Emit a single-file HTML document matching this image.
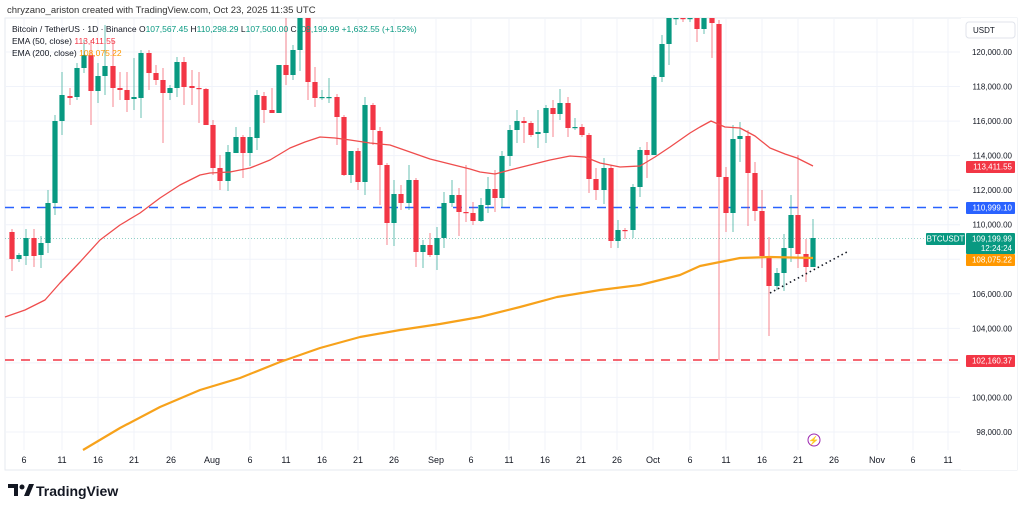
<!DOCTYPE html>
<html><head><meta charset="utf-8"><style>
html,body{margin:0;padding:0;background:#fff;width:1024px;height:510px;overflow:hidden;font-family:"Liberation Sans",sans-serif}
svg text{font-family:"Liberation Sans",sans-serif}
</style></head><body>
<svg id="s" width="1024" height="510" xmlns="http://www.w3.org/2000/svg"></svg>
<script>
const s=document.getElementById('s');let h='';
const G='#089981',R='#f23645';
h+='<rect x="5" y="18" width="1012" height="452" fill="#fff" stroke="#e6e9ef"/>';
// grid
const py=p=>52+(120000-p)/1000*17.27;
for(let p=96000;p<=122000;p+=2000){const y=py(p);if(y>18&&y<450)h+=`<line x1="5" x2="960" y1="${y}" y2="${y}" stroke="#f0f3fa"/>`;}
const xl=[[24,'6'],[62,'11'],[98,'16'],[134,'21'],[171,'26'],[212,'Aug'],[250,'6'],[286,'11'],[322,'16'],[358,'21'],[394,'26'],[436,'Sep'],[471,'6'],[509,'11'],[545,'16'],[581,'21'],[617,'26'],[653,'Oct'],[690,'6'],[726,'11'],[762,'16'],[798,'21'],[834,'26'],[877,'Nov'],[913,'6'],[948,'11']];
xl.forEach(([x,t])=>{h+=`<line x1="${x}" x2="${x}" y1="18" y2="450" stroke="#f0f3fa"/>`;h+=`<text x="${x}" y="463" font-size="9" fill="#131722" text-anchor="middle">${t}</text>`;});
// lines
h+=`<line x1="5" x2="960" y1="238.5" y2="238.5" stroke="#089981" stroke-width="0.7" stroke-dasharray="1,2" opacity="0.6"/>`;
h+=`<line x1="5" x2="962" y1="207.5" y2="207.5" stroke="#2962ff" stroke-width="1.6" stroke-dasharray="9,7"/>`;
h+=`<line x1="5" x2="962" y1="360" y2="360" stroke="#f23645" stroke-width="1.6" stroke-dasharray="9,7"/>`;
// candles [x,c,bt,bb,wt,wb]
const C=[[12,'r',232,259,229,271],[19,'g',255,259,253,262],[26,'g',238,256,229,265],[34,'r',238,256,229,267],[41,'g',243,255,236,268],[48,'g',203,243,190,253],[55,'g',121,203,115,215],[62,'g',95,121,72,135],[70,'r',96,98,88,105],[77,'g',68,97,63,100],[84,'g',55,68,40,73],[91,'r',55,91,40,125],[98,'g',76,91,63,103],[105,'g',66,76,25,95],[113,'r',66,88,40,107],[120,'r',88,90,72,100],[127,'r',90,100,72,112],[134,'g',97,99,58,110],[141,'g',53,98,50,118],[149,'r',53,73,50,90],[156,'r',73,80,65,85],[163,'r',80,93,68,143],[170,'g',88,93,85,100],[177,'g',62,88,57,97],[184,'r',62,87,57,105],[192,'r',86,88,70,105],[199,'r',88,89,72,123],[206,'r',89,125,88,125],[213,'r',125,168,120,175],[220,'r',168,181,155,190],[228,'g',152,181,145,191],[236,'g',137,153,127,152],[243,'r',137,153,135,178],[250,'g',137,153,127,166],[257,'g',95,138,90,150],[264,'r',96,110,92,123],[272,'r',110,113,88,113],[279,'g',65,113,65,113],[286,'r',65,75,18,85],[293,'g',50,75,45,80],[300,'g',18,50,18,71],[308,'r',18,82,18,100],[315,'r',82,98,67,107],[322,'g',97,98,90,100],[329,'g',97,98,78,103],[337,'r',97,117,94,145],[344,'r',117,175,115,176],[351,'g',151,175,151,183],[358,'r',151,182,148,190],[365,'g',105,182,97,195],[373,'r',105,130,103,145],[380,'r',131,165,127,205],[387,'r',165,223,163,245],[394,'g',194,223,180,246],[401,'r',194,203,185,210],[409,'g',180,203,165,210],[416,'r',180,252,178,267],[423,'g',245,252,240,268],[430,'r',245,255,233,257],[437,'g',238,255,227,270],[444,'g',203,238,192,248],[452,'g',195,203,180,207],[459,'r',195,212,188,236],[466,'r',212,213,165,222],[473,'r',213,221,202,225],[481,'g',205,221,198,222],[488,'g',189,205,177,213],[495,'r',189,198,170,212],[502,'g',156,198,151,207],[510,'g',130,156,125,166],[517,'g',121,130,110,143],[524,'r',121,123,117,143],[531,'r',123,135,121,137],[538,'g',132,134,110,148],[546,'g',108,133,105,143],[553,'r',108,114,100,137],[560,'g',103,114,89,120],[568,'r',103,128,97,137],[575,'g',127,128,118,130],[582,'r',127,135,124,137],[589,'r',135,179,133,193],[596,'r',179,190,168,200],[604,'g',168,190,158,204],[611,'r',168,241,165,248],[618,'g',230,241,220,248],[625,'r',230,231,228,239],[633,'g',187,230,184,238],[640,'g',150,187,147,197],[647,'r',150,155,142,178],[654,'g',77,155,75,155],[662,'g',44,77,35,82],[669,'g',18,44,18,65],[676,'g',18,19,18,25],[683,'r',18,19,18,22],[690,'g',18,19,18,22],[697,'r',18,29,18,42],[704,'g',18,29,18,34],[712,'r',18,23,18,58],[719,'r',24,177,20,360],[726,'r',177,213,167,232],[733,'g',139,213,125,232],[740,'g',136,139,122,162],[748,'r',136,173,130,226],[755,'r',173,211,162,221],[762,'r',211,256,190,268],[769,'r',256,286,237,336],[777,'g',273,286,268,290],[784,'g',248,273,234,291],[791,'g',215,248,195,262],[798,'r',215,254,155,268],[806,'r',254,267,239,282],[813,'g',238,267,219,267]];
C.forEach(([x,c,bt,bb,wt,wb])=>{const col=c=='g'?G:R;h+=`<line x1="${x}" x2="${x}" y1="${wt}" y2="${wb}" stroke="${col}" stroke-width="1" opacity="0.6"/>`;h+=`<rect x="${x-2.6}" y="${bt}" width="5.2" height="${Math.max(1.2,bb-bt)}" fill="${col}"/>`;});
// EMAs
const e50=[[5,317],[25,310],[45,300],[60,283],[80,262],[100,240],[120,225],[140,213],[160,198],[180,185],[200,175],[210,173],[230,172],[250,168],[270,160],[290,148],[305,142],[320,137],[335,138],[350,140],[370,143],[390,145],[410,152],[430,159],[450,164],[470,169],[480,172],[495,174],[510,170],[530,165],[550,160],[570,156],[585,157],[600,163],[620,167],[640,166],[655,157],[670,147],[690,133],[700,127],[711,121],[725,127],[740,128],[755,136],[770,148],[785,154],[797,158],[813,166]];
const e200=[[83,450],[120,428],[160,407],[200,390],[240,378],[280,362],[320,348],[360,337],[400,330],[440,324],[480,317],[520,307],[557,297],[600,290],[640,285],[680,275],[700,266],[720,262],[740,258],[770,257],[813,258]];
const pl=(a,c,w)=>`<polyline fill="none" stroke="${c}" stroke-width="${w}" stroke-linejoin="round" points="${a.map(p=>p.join(',')).join(' ')}"/>`;
h+=pl(e50,'#ef4d4d',1.3);h+=pl(e200,'#f7a21b',2.2);
h+=`<line x1="770" y1="293" x2="847" y2="252" stroke="#131722" stroke-width="1.6" stroke-dasharray="1.5,3"/>`;
// axis
h+=`<rect x="961" y="18" width="56" height="452" fill="#fff"/>`;
h+=`<rect x="966" y="22" width="49" height="16" rx="3" fill="#fff" stroke="#e0e3eb"/><text x="973" y="33" font-size="8" fill="#131722">USDT</text>`;
for(let p=98000;p<=120000;p+=2000){h+=`<text x="1012" y="${py(p)+3}" font-size="8" fill="#131722" text-anchor="end">${p.toLocaleString('en-US')}.00</text>`;}
const badge=(y,hh,c,t,t2)=>{h+=`<rect x="966" y="${y}" width="49" height="${hh}" rx="1" fill="${c}"/><text x="1012" y="${y+8.5}" font-size="8" fill="#fff" text-anchor="end">${t}</text>`;if(t2)h+=`<text x="1012" y="${y+18}" font-size="8" fill="#fff" text-anchor="end">${t2}</text>`;};
badge(161,12,R,'113,411.55');badge(202,12,'#2962ff','110,999.10');badge(233,21,G,'109,199.99','12:24:24');badge(254,12,'#ff9800','108,075.22');badge(355,12,R,'102,160.37');
h+=`<rect x="926" y="233" width="39" height="12" rx="1" fill="${G}"/><text x="945.5" y="241.5" font-size="8" fill="#fff" text-anchor="middle">BTCUSDT</text>`;
// lightning
h+=`<circle cx="814" cy="440" r="6" fill="none" stroke="#9c27b0" stroke-width="1"/><text x="814" y="443.5" font-size="9" fill="#e91e63" text-anchor="middle">⚡</text>`;
// header
h+=`<text x="7" y="13" font-size="9.5" fill="#333">chryzano_ariston created with TradingView.com, Oct 23, 2025 11:35 UTC</text>`;
h+=`<text x="12" y="32" font-size="8.5" fill="#131722">Bitcoin / TetherUS · 1D · Binance <tspan fill="#131722">O</tspan><tspan fill="${G}">107,567.45</tspan> H<tspan fill="${G}">110,298.29</tspan> L<tspan fill="${G}">107,500.00</tspan> C<tspan fill="${G}">109,199.99</tspan> <tspan fill="${G}">+1,632.55 (+1.52%)</tspan></text>`;
h+=`<text x="12" y="44" font-size="8.5" fill="#131722">EMA (50, close) <tspan fill="${R}">113,411.55</tspan></text>`;
h+=`<text x="12" y="56" font-size="8.5" fill="#131722">EMA (200, close) <tspan fill="#ff9800">108,075.22</tspan></text>`;
// logo
h+=`<path d="M8 484h10v12h-4v-8h-6z" fill="#131722"/><circle cx="22" cy="487" r="2.5" fill="#131722"/><path d="M24 496l5-12h5l-5 12z" fill="#131722"/>`;
h+=`<text x="36" y="496" font-size="14" font-weight="bold" fill="#131722">TradingView</text>`;
s.innerHTML=h;
</script>
</body></html>
